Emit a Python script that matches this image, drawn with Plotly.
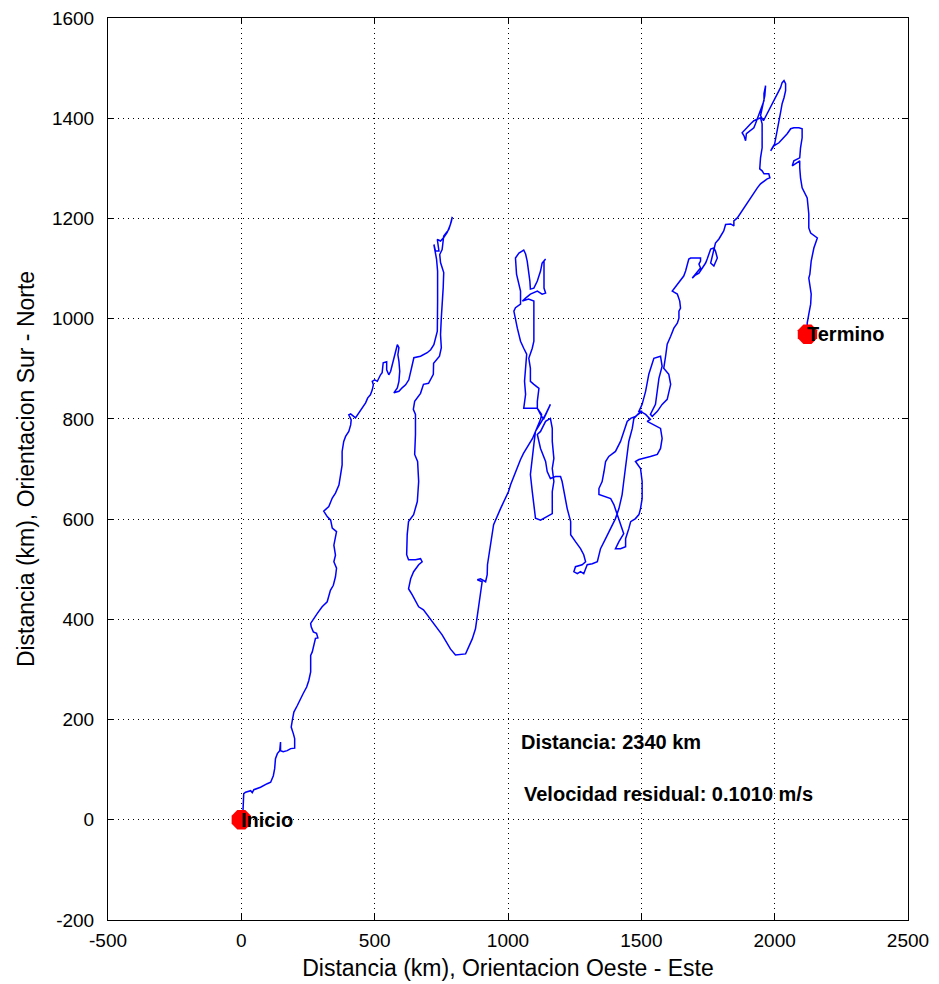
import plotly.graph_objects as go

# Trajectory (km): x = West-East, y = South-North
track_x = [0, 6, 9, 16, 35, 41, 47, 72, 97, 110, 120, 125, 128, 135, 144, 147, 147, 157, 172, 185, 200, 200, 195, 187, 191, 197, 210, 222, 232, 245, 253, 260, 260, 266, 272, 278, 287, 282, 270, 262, 260, 272, 285, 303, 322,
           334, 345, 353, 357, 347, 353, 347, 357, 341, 335, 322, 309, 328, 341, 353, 366, 372, 378, 378, 384, 391, 403, 410, 412, 403, 410, 428, 441, 453, 466, 474, 484, 491, 495, 491, 500, 510, 516, 522, 528, 532, 545, 545, 553, 560, 566, 572, 578, 585, 591, 587, 591, 594, 591, 585, 572, 591, 603, 616, 628, 635, 641, 647, 672, 697, 710, 722,
           735, 736, 736, 732, 722, 728, 741, 735, 747, 759, 772, 784, 791, 788, 778, 759, 753, 744, 747, 753, 759, 757, 753, 750, 747, 750, 743, 721, 720, 702, 683, 672, 650, 645, 653, 653, 650, 661, 665, 660, 646, 627, 622, 620, 627, 653, 672, 678, 665, 646, 635, 627, 641, 665, 683, 716, 753, 784, 803, 841, 852, 866, 878, 886, 893, 903, 885, 897, 916, 922, 923, 934, 946, 972, 1002, 1010,
           1028, 1047, 1058, 1073, 1092, 1103, 1114, 1122, 1126, 1110, 1059, 1066, 1062, 1066, 1070, 1059, 1047, 1035, 1024, 1022, 1028, 1047, 1047, 1041, 1032, 1028, 1041, 1059, 1066, 1072, 1078, 1082, 1084, 1097, 1110, 1122, 1128, 1141, 1135, 1135, 1135, 1141, 1128, 1110, 1084, 1066, 1054, 1077, 1097, 1097, 1097, 1091, 1078, 1084, 1084, 1097, 1116, 1110, 1110, 1122, 1133, 1147, 1159, 1141, 1126, 1114, 1103,
           1097, 1091, 1084, 1091, 1097, 1103, 1122, 1147, 1166, 1166, 1172, 1166, 1172, 1166, 1166, 1159, 1141, 1122, 1110, 1122, 1141, 1147, 1159, 1178, 1197, 1203, 1209, 1222, 1235, 1235, 1253, 1272, 1284, 1291, 1278, 1253, 1247, 1260, 1272, 1284, 1297, 1316, 1335,
           1347, 1366, 1385, 1403, 1416, 1428, 1434, 1441, 1447, 1453, 1466, 1472, 1497, 1516, 1534, 1522, 1572, 1578, 1572, 1560, 1534, 1509, 1491, 1478, 1497, 1503, 1503, 1497, 1491, 1478, 1460, 1453, 1447, 1441, 1441, 1422, 1403, 1416, 1434, 1422, 1410, 1397, 1385, 1360, 1341, 1341, 1353, 1360, 1366, 1378, 1403, 1422, 1434, 1447, 1460, 1478, 1503, 1491, 1503, 1516, 1528, 1541, 1547,
           1572, 1578, 1566, 1560, 1553, 1534, 1541, 1560, 1578, 1597, 1610, 1603, 1584, 1591, 1597, 1610, 1622, 1635, 1641, 1641, 1647, 1644, 1635, 1616, 1622, 1635, 1653, 1659, 1666, 1672, 1678, 1685, 1703, 1722, 1722, 1716, 1722, 1703, 1691, 1703, 1716, 1728, 1741, 1747, 1753, 1760, 1772, 1778, 1785, 1778, 1772, 1760, 1766, 1771, 1778, 1791, 1803, 1809,
           1816, 1835, 1847, 1847, 1860, 1872, 1885, 1897, 1910, 1922, 1935, 1947, 1960, 1972, 1982, 1978, 1960, 1953, 1944, 1947, 1953, 1953, 1953, 1947, 1922, 1910, 1897, 1885, 1878, 1885, 1891, 1894, 1910, 1922, 1928, 1935, 1941, 1947, 1953, 1960, 1960, 1966, 1963, 1953, 1947, 1958, 1972, 1985, 1997, 2010, 2022, 2028, 2035, 2041, 2041, 2035, 2028, 2022, 2016, 2010, 2003, 2000, 1991, 1985,
           1997, 2016, 2035, 2047, 2060, 2072, 2091, 2103, 2103, 2097, 2094, 2085, 2072, 2066, 2078, 2094, 2094, 2097, 2103, 2122, 2128, 2128, 2135, 2160, 2147, 2137, 2132, 2128, 2137, 2135, 2128, 2122, 2123]
track_y = [0, 15, 52, 55, 58, 54, 60, 65, 72, 75, 88, 102, 122, 132, 138, 155, 138, 136, 138, 142, 143, 162, 172, 185, 198, 215, 228, 242, 252, 265, 278, 295, 328, 335, 352, 362, 363, 372, 375, 385, 392, 402, 412, 425, 435,
           458, 468, 485, 502, 515, 528, 548, 575, 582, 598, 605, 616, 625, 642, 652, 668, 688, 708, 735, 755, 765, 775, 788, 798, 808, 810, 802, 812, 822, 832, 842, 848, 858, 868, 875, 878, 875, 882, 888, 892, 912, 914, 898, 888, 895, 908, 922, 938, 948, 942, 928, 915, 895, 875, 862, 852, 855, 862, 868, 878, 892, 908, 922, 925, 932, 938, 948,
           975, 1035, 1095, 1119, 1148, 1135, 1135, 1158, 1155, 1162, 1172, 1188, 1203, 1195, 1178, 1165, 1138, 1128, 1112, 1102, 1092, 1062, 1035, 1002, 968, 942, 925, 911, 889, 871, 869, 851, 835, 819, 809, 769, 729, 715, 675, 635, 609, 595, 569, 529, 519, 519, 521, 515, 509, 495, 481, 461, 449, 425, 419, 395, 369, 341, 329, 331, 345, 361, 381, 409, 435, 475, 479, 481, 475, 489, 509, 549, 589, 621, 655, 669,
           695, 719, 731, 745, 761, 775, 789, 799, 809, 821, 821, 849, 875, 901, 929, 941, 955, 981, 1005, 1015, 1022, 1029, 1055, 1069, 1089, 1121, 1131, 1137, 1129, 1115, 1095, 1075, 1059, 1061, 1075, 1095, 1111, 1119, 1115, 1089, 1061, 1051, 1049, 1055, 1049, 1041, 1035, 1039, 1035, 1001, 955, 941, 921, 901, 875, 869, 861, 835, 821, 809, 799, 815, 829, 809, 795, 785, 775,
           749, 721, 689, 655, 621, 602, 598, 605, 611, 655, 675, 701, 721, 755, 781, 801, 795, 775, 769, 741, 715, 695, 681, 685, 685, 675, 655, 621, 595, 569, 555, 541, 529, 515, 509, 505, 495, 491, 495, 491, 509, 511, 515,
           541, 561, 581, 601, 621, 649, 675, 701, 729, 755, 781, 801, 815, 809, 799, 795, 781, 761, 741, 729, 725, 721, 719, 715, 701, 675, 641, 621, 609, 601, 595, 581, 569, 561, 545, 541, 541, 555, 571, 589, 609, 629, 641, 645, 649, 661, 675, 695, 715, 725, 735, 755, 775, 795, 801, 805, 815, 815, 829, 855, 889, 911, 921,
           925, 905, 881, 855, 829, 809, 805, 815, 829, 839, 869, 889, 901, 925, 949, 965, 981, 991, 1001, 1015, 1021, 1035, 1049, 1055, 1059, 1069, 1079, 1085, 1095, 1109, 1119, 1121, 1121, 1121, 1115, 1109, 1101, 1089, 1081, 1087, 1091, 1101, 1111, 1119, 1129, 1139, 1141, 1135, 1121, 1111, 1105, 1111, 1125, 1141, 1151, 1159, 1169, 1175,
           1188, 1189, 1185, 1195, 1201, 1211, 1221, 1231, 1241, 1251, 1261, 1269, 1275, 1279, 1281, 1289, 1289, 1295, 1299, 1321, 1341, 1361, 1389, 1401, 1395, 1389, 1381, 1375, 1371, 1365, 1355, 1369, 1375, 1381, 1389, 1399, 1409, 1415, 1425, 1435, 1449, 1465, 1445, 1421, 1405, 1395, 1409, 1421, 1435, 1449, 1461, 1471, 1475, 1469, 1455, 1441, 1429, 1411, 1395, 1375, 1361, 1349, 1341, 1335,
           1345, 1351, 1361, 1369, 1379, 1381, 1381, 1379, 1361, 1341, 1321, 1319, 1315, 1305, 1309, 1315, 1301, 1281, 1261, 1241, 1209, 1181, 1171, 1161, 1141, 1115, 1089, 1081, 1049, 1029, 1009, 991, 969]

# Endpoints and labels
end_names = ["Inicio", "Termino"]
end_x = [track_x[0], track_x[-1]]
end_y = [track_y[0], track_y[-1]]

# Axis ticks
x_ticks = [-500, 0, 500, 1000, 1500, 2000, 2500]
y_ticks = [-200, 0, 200, 400, 600, 800, 1000, 1200, 1400, 1600]

info_lines = ["Distancia: 2340 km", "Velocidad residual: 0.1010 m/s"]
info_x = [1043, 1054]
info_y = [155, 51]

FONT = "Liberation Sans"

fig = go.Figure()
fig.add_trace(go.Scatter(x=track_x, y=track_y, mode="lines",
                         line=dict(color="#0000ff", width=1.5), hoverinfo="skip",
                         showlegend=False))
fig.add_trace(go.Scatter(x=end_x, y=end_y, mode="markers",
                         marker=dict(symbol="octagon", size=21, color="#ff0000",
                                     line=dict(width=0)),
                         showlegend=False))

for name, x, y in zip(end_names, end_x, end_y):
    fig.add_annotation(x=x, y=y, text="<b>" + name + "</b>", showarrow=False,
                       xanchor="left", yanchor="middle", xshift=-2,
                       font=dict(family=FONT, size=20, color="black"))

for t, x, y in zip(info_lines, info_x, info_y):
    fig.add_annotation(x=x, y=y, text="<b>" + t + "</b>", showarrow=False,
                       xanchor="left", yanchor="middle",
                       font=dict(family=FONT, size=20, color="black"))

axis_common = dict(showline=True, linecolor="black", linewidth=1, mirror="ticks",
                   ticks="inside", ticklen=6, tickcolor="black",
                   showgrid=True, gridcolor="black", gridwidth=1, griddash="1px,4px",
                   zeroline=False, ticklabeloverflow="allow",
                   tickfont=dict(family=FONT, size=19, color="black"))

fig.update_xaxes(range=[-500, 2500], tickvals=x_ticks,
                 ticktext=[str(v) for v in x_ticks], ticklabelstandoff=3,
                 title=dict(text="Distancia (km), Orientacion Oeste - Este",
                            font=dict(family=FONT, size=23, color="black"), standoff=10),
                 **axis_common)
fig.update_yaxes(range=[-200, 1600], tickvals=y_ticks,
                 ticktext=[str(v) for v in y_ticks], ticklabelstandoff=9,
                 title=dict(text="Distancia (km), Orientacion Sur - Norte",
                            font=dict(family=FONT, size=23, color="black"), standoff=10),
                 **axis_common)

# Page body has an 8px margin, so the figure is sized to fit inside the window
fig.update_layout(width=931, height=976, paper_bgcolor="white", plot_bgcolor="white",
                  margin=dict(l=100, r=31, t=10, b=64, autoexpand=False),
                  font=dict(family=FONT, color="black"))

fig.write_html("out.html")
